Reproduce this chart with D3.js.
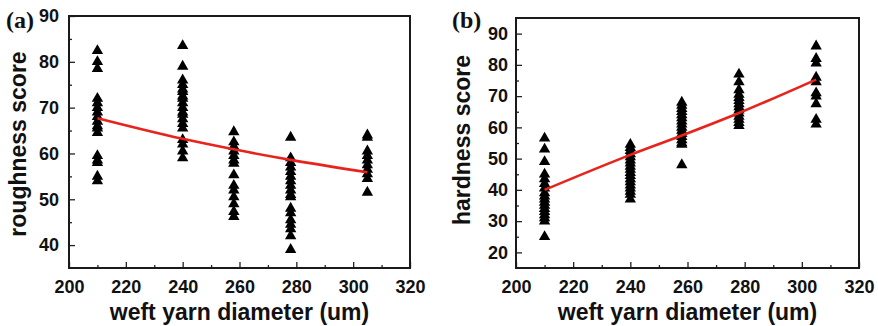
<!DOCTYPE html>
<html>
<head>
<meta charset="utf-8">
<script src="https://cdn.jsdelivr.net/npm/d3@7"></script>
<style>
  body { margin: 0; background: #fff; }
  svg { display: block; }
  .tick text { font-family: "Liberation Sans", Arial, sans-serif; font-weight: bold; font-size: 18px; fill: #111; }
  .title { font-family: "Liberation Sans", Arial, sans-serif; font-weight: bold; font-size: 23px; fill: #111; }
  .tag { font-family: "Liberation Serif", "Times New Roman", serif; font-weight: bold; font-size: 24px; fill: #111; }
</style>
</head>
<body>
<div id="wrap"></div>
<script>
// weft yarn diameters (um), one column of points per diameter
const diameters = [210, 240, 258, 278, 305];

// (a) roughness scores per diameter
const rough210 = [82.4, 80, 78.5, 72, 71, 70, 69, 68, 67, 66, 65.5, 64.5, 59.5, 58.5, 58, 55, 54];
const rough240 = [83.5, 79, 76, 75, 74, 73.5, 72.5, 72, 71, 70, 69, 68.5, 67.5, 66.5, 65.5, 63, 62, 60.5, 59];
const rough258 = [64.7, 62.5, 61.5, 60.5, 59.5, 58.5, 57.8, 55.3, 53, 52, 50.5, 49, 47.3, 46.2];
const rough278 = [63.5, 59, 58, 57, 56, 55, 54, 53, 52, 51, 50.5, 48, 47, 45.5, 44.5, 43.5, 42, 39];
const rough305 = [64, 63.5, 60.5, 59.5, 58.5, 57.5, 56.5, 55.5, 54.5, 51.5];
const roughFit = [67.7, 63.2, 60.9, 58.6, 55.9];

// (b) hardness scores per diameter
const hard210 = [56.5, 53, 49, 45, 43.5, 42, 40.5, 39, 38, 37, 36, 35, 34, 33, 32, 31, 30, 25];
const hard240 = [54.5, 53.5, 52.5, 51.5, 50.5, 49.5, 48.5, 47.5, 46.5, 45.5, 44.5, 43.5, 42.5, 41.5, 40.5, 39.5, 38.5, 37];
const hard258 = [68, 67, 66, 65, 64, 63, 62, 61, 60, 59, 58, 57, 56, 55, 54.5, 48];
const hard278 = [77, 74.5, 72, 70.5, 69.5, 68.5, 67.5, 66.5, 65.5, 64.5, 63.5, 62.5, 61.5, 60.5];
const hard305 = [86, 82, 80.5, 76, 74.5, 71, 70, 67.5, 62.5, 61];
const hardFit = [40, 51.2, 57.4, 64.6, 75.3];

const xTicks = [200, 220, 240, 260, 280, 300, 320];
const xMinor = [210, 230, 250, 270, 290, 310];

const svg = d3.select("#wrap").append("svg")
    .attr("width", 878)
    .attr("height", 326);

function panel(opt) {
    let x = d3.scaleLinear().domain([200, 320]).range([opt.left, opt.right]);
    let y = d3.scaleLinear().domain(opt.yDomain).range([268, opt.top]);
    let g = svg.append("g");

    // minor ticks
    g.append("g")
        .attr("transform", "translate(0,268)")
        .call(d3.axisBottom(x).tickValues(xMinor).tickSize(-3).tickFormat(""))
        .call(a => a.select(".domain").remove());
    g.append("g")
        .attr("transform", "translate(" + opt.left + ",0)")
        .call(d3.axisLeft(y).tickValues(opt.yMinor).tickSize(-3).tickFormat(""))
        .call(a => a.select(".domain").remove());

    // major ticks + labels
    g.append("g")
        .attr("transform", "translate(0,268)")
        .call(d3.axisBottom(x).tickValues(xTicks).tickSize(-6).tickPadding(12))
        .call(a => a.select(".domain").remove());
    g.append("g")
        .attr("transform", "translate(" + opt.left + ",0)")
        .call(d3.axisLeft(y).tickValues(opt.yTicks).tickSize(-6).tickPadding(opt.pad))
        .call(a => a.select(".domain").remove());

    g.selectAll(".tick line").attr("stroke", "#222").attr("stroke-width", 1.3);

    // frame
    g.append("rect")
        .attr("x", opt.left).attr("y", opt.top)
        .attr("width", opt.right - opt.left).attr("height", 268 - opt.top)
        .attr("fill", "none").attr("stroke", "#1a1a1a").attr("stroke-width", 2);

    // points
    let pts = [];
    opt.columns.forEach(function(col, i) {
        col.forEach(function(v) { pts.push({d: diameters[i], v: v}); });
    });
    g.selectAll(".pt")
        .data(pts)
        .enter().append("path")
        .attr("class", "pt")
        .attr("d", d3.symbol(d3.symbolTriangle, 56))
        .attr("transform", d => "translate(" + x(d.d) + "," + y(d.v) + ")")
        .attr("fill", "#000");

    // fitted curve
    let line = d3.line()
        .x((d, i) => x(diameters[i]))
        .y(d => y(d))
        .curve(d3.curveMonotoneX);
    g.append("path")
        .datum(opt.fit)
        .attr("d", line)
        .attr("fill", "none")
        .attr("stroke", "#e8231c")
        .attr("stroke-width", 2.6);

    // axis titles
    g.append("text")
        .attr("class", "title")
        .attr("x", (opt.left + opt.right) / 2)
        .attr("y", 320)
        .attr("text-anchor", "middle")
        .text("weft yarn diameter (um)");
    g.append("text")
        .attr("class", "title")
        .attr("transform", "translate(" + opt.titleX + "," + opt.titleY + ") rotate(-90)")
        .attr("text-anchor", "middle")
        .text(opt.yTitle);

    g.append("text")
        .attr("class", "tag")
        .attr("x", opt.tagX)
        .attr("y", opt.tagY)
        .text(opt.tag);
}

panel({
    left: 69, right: 410, top: 16,
    yDomain: [35, 90],
    yTicks: [40, 50, 60, 70, 80, 90],
    yMinor: [45, 55, 65, 75, 85],
    pad: 10,
    columns: [rough210, rough240, rough258, rough278, rough305],
    fit: roughFit,
    yTitle: "roughness score", titleX: 26, titleY: 144,
    tag: "(a)", tagX: 6, tagY: 28
});

panel({
    left: 516, right: 859, top: 18,
    yDomain: [15, 95],
    yTicks: [20, 30, 40, 50, 60, 70, 80, 90],
    yMinor: [25, 35, 45, 55, 65, 75, 85],
    pad: 8,
    columns: [hard210, hard240, hard258, hard278, hard305],
    fit: hardFit,
    yTitle: "hardness score", titleX: 470, titleY: 140,
    tag: "(b)", tagX: 452, tagY: 28
});
</script>
</body>
</html>
